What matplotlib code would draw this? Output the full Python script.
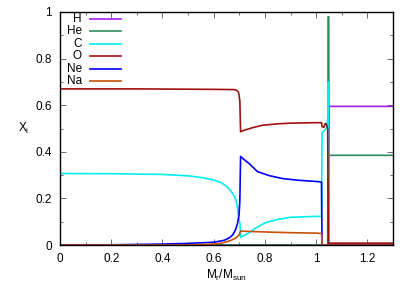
import numpy as np
import matplotlib
matplotlib.use("Agg")
import matplotlib.pyplot as plt
from matplotlib.ticker import MultipleLocator

# mass coordinate / abundance profiles
h_x = [0.0, 1.050, 1.051, 1.3]
h_y = [0.0, 0.0, 0.595, 0.595]

he_x = [0.0, 1.045, 1.047, 1.049, 1.050, 1.3]
he_y = [0.0, 0.0, 0.98, 0.98, 0.385, 0.385]

c_x = [0.0, 0.2, 0.4, 0.5, 0.55, 0.6, 0.63, 0.65, 0.667, 0.68, 0.687, 0.693, 0.697, 0.703, 0.705,
       0.71, 0.72, 0.738, 0.76, 0.8, 0.85, 0.9, 1.0, 1.021, 1.023, 1.03, 1.04, 1.046, 1.048, 1.050, 1.3]
c_y = [0.307, 0.306, 0.303, 0.297, 0.29, 0.279, 0.267, 0.252, 0.232, 0.21, 0.193, 0.16, 0.12, 0.09, 0.033,
       0.036, 0.042, 0.052, 0.07, 0.095, 0.11, 0.119, 0.123, 0.123, 0.48, 0.49, 0.50, 0.55, 0.70, 0.0, 0.0]

o_x = [0.0, 0.3, 0.6, 0.68, 0.69, 0.697, 0.702, 0.705, 0.72, 0.75, 0.79, 0.85, 0.9, 1.0,
       1.021, 1.023, 1.03, 1.035, 1.04, 1.045, 1.048, 1.3]
o_y = [0.670, 0.670, 0.668, 0.667, 0.664, 0.655, 0.62, 0.486, 0.493, 0.503, 0.514, 0.52, 0.523, 0.525,
       0.525, 0.508, 0.505, 0.522, 0.518, 0.50, 0.008, 0.008]

ne_x = [0.0, 0.2, 0.4, 0.5, 0.6, 0.64, 0.66, 0.674, 0.685, 0.693, 0.699, 0.702, 0.705, 0.715,
        0.738, 0.771, 0.816, 0.87, 0.93, 1.01, 1.021, 1.023, 1.3]
ne_y = [0.0, 0.001, 0.004, 0.007, 0.012, 0.02, 0.03, 0.043, 0.065, 0.093, 0.13, 0.19, 0.38, 0.37,
        0.35, 0.315, 0.298, 0.285, 0.278, 0.272, 0.27, 0.0, 0.0]

na_x = [0.0, 0.45, 0.55, 0.6, 0.63, 0.65, 0.67, 0.69, 0.70, 0.705, 0.72, 0.8, 0.9, 1.0, 1.021, 1.023, 1.3]
na_y = [0.0, 0.0, 0.002, 0.004, 0.008, 0.014, 0.021, 0.033, 0.045, 0.06, 0.059, 0.056, 0.053, 0.051, 0.05, 0.0, 0.0]

labels = ["H", "He", "C", "O", "Ne", "Na"]
colors = ["#a020f0", "#2e8b57", "#00f0f0", "#a01010", "#0000ff", "#c8500a"]

plt.rcParams["font.family"] = ["Liberation Sans", "DejaVu Sans"]
plt.rcParams["font.size"] = 8.5

fig = plt.figure(figsize=(4.15, 2.97), dpi=100)
ax = fig.add_axes([0.1446, 0.175, 0.8024, 0.7846])

series = [(h_x, h_y), (he_x, he_y), (c_x, c_y), (o_x, o_y), (ne_x, ne_y), (na_x, na_y)]
# gnuplot plots H first, so the later species sit on top
for (xs, ys), col in zip(series, colors):
    ax.plot(xs, ys, color=col, lw=1.2)

ax.set_xlim(0, 1.3)
ax.set_ylim(0, 1)
ax.xaxis.set_major_locator(MultipleLocator(0.2))
ax.xaxis.set_minor_locator(MultipleLocator(0.1))
ax.yaxis.set_major_locator(MultipleLocator(0.2))
ax.yaxis.set_minor_locator(MultipleLocator(0.1))
ax.xaxis.set_major_formatter(plt.FuncFormatter(lambda v, p: f"{v:g}"))
ax.yaxis.set_major_formatter(plt.FuncFormatter(lambda v, p: f"{v:g}"))
ax.tick_params(which="both", direction="in", top=True, right=True, width=0.6, color="#555555")
ax.tick_params(which="major", length=4, pad=6)
ax.tick_params(which="minor", length=2.5)
for s in ax.spines.values():
    s.set_linewidth(1.0)

ax.set_xlabel(r"M$_\mathregular{r}$/M$_\mathregular{sun}$", labelpad=2)
ax.set_ylabel(r"X$_\mathregular{i}$", rotation=0, labelpad=8, va="center")

# gnuplot-style key: right-justified text, sample line after it
row0, dy = 0.970, 0.0532
for i, (lab, col) in enumerate(zip(labels, colors)):
    yy = row0 - i * dy
    ax.text(0.066, yy, lab, transform=ax.transAxes, ha="right", va="center")
    ax.plot([0.09, 0.183], [yy, yy], transform=ax.transAxes, color=col, lw=1.2)

fig.savefig("out.png", dpi=100)
